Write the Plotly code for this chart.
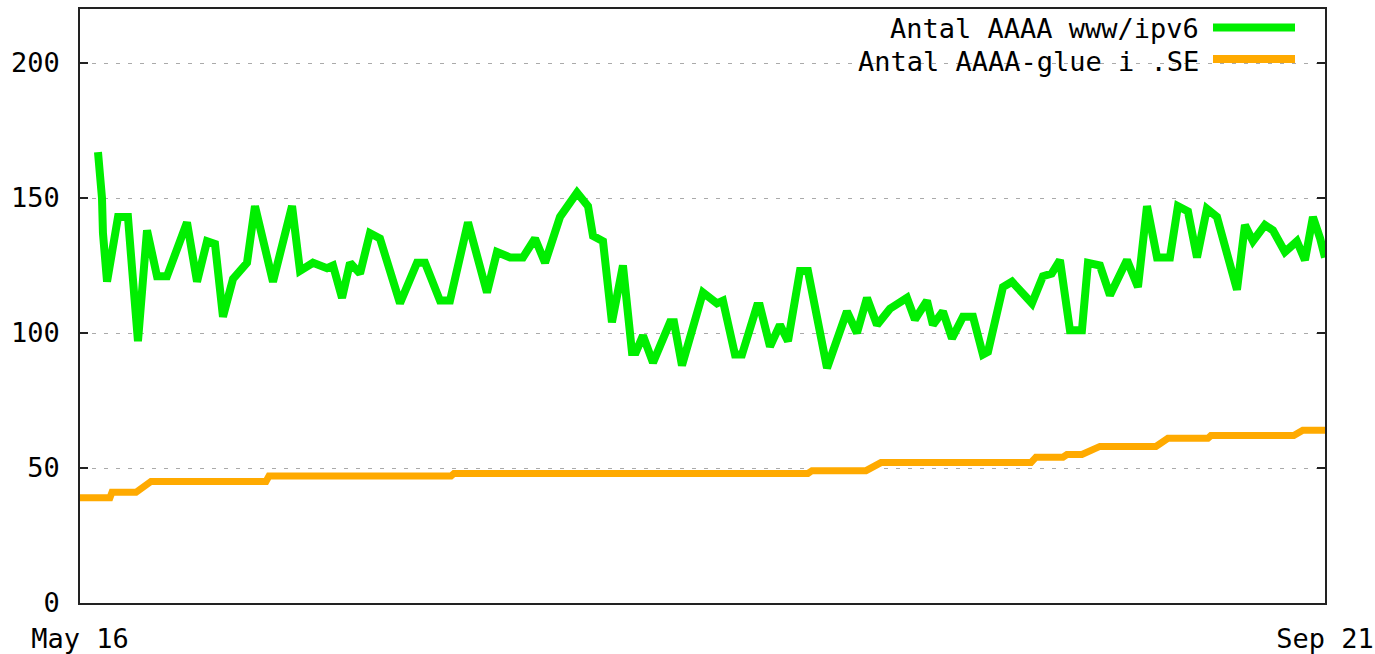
import pandas as pd
import plotly.graph_objects as go

# ---- data (day offsets from start date, values) ----
start_date = "2008-05-16"
end_date = "2008-09-21"
tick_dates = ["2008-05-16", "2008-09-21"]
tick_labels = ["May 16", "Sep 21"]
y_ticks = [0, 50, 100, 150, 200]

green_name = "Antal AAAA www/ipv6"
green_day = [1.85, 2.0, 2.26, 2.36, 2.78, 3.91, 4.93, 5.35, 5.96, 6.89,
             7.92, 8.94, 11.0, 12.03, 13.06, 13.88, 14.7, 15.73, 17.17, 17.99,
             19.84, 21.8, 22.62, 23.95, 25.39, 26.01, 26.94, 27.76, 28.79, 29.81,
             30.84, 32.9, 34.65, 35.47, 37.01, 38.04, 39.89, 41.84, 42.87, 44.21,
             45.54, 46.78, 47.81, 49.35, 51.1, 52.23, 52.74, 53.77, 54.69, 55.82,
             56.75, 57.16, 57.88, 58.91, 60.66, 61.07, 61.89, 64.05, 65.49, 66.1,
             67.34, 68.06, 69.6, 69.9, 70.94, 71.96, 72.79, 74.02, 74.84, 76.8,
             78.85, 79.88, 80.91, 81.94, 83.27, 85.02, 85.84, 87.08, 87.69, 88.72,
             89.65, 90.78, 91.81, 92.83, 93.35, 94.89, 95.82, 97.87, 99.0, 99.9,
             100.75, 101.78, 103.01, 103.63, 104.86, 105.89, 107.64, 108.77, 109.7, 110.73,
             112.06, 112.88, 113.91, 114.84, 115.86, 116.89, 118.95, 119.77, 120.59, 121.82,
             122.65, 123.88, 125.11, 125.94, 126.76, 127.5, 128.0]
green_val = [167, 161, 150, 137, 119, 143, 143, 124, 97, 138,
             121, 121, 141, 119, 134, 133, 106, 120, 126, 147,
             119, 147, 123, 126, 124, 125, 113, 126, 122, 137,
             135, 111, 126, 126, 112, 112, 141, 115, 130, 128,
             128, 135, 126, 143, 152, 147, 136, 134, 104, 125,
             93, 93, 99, 89, 104, 104, 88, 115, 111, 112,
             92, 92, 110, 110, 95, 103, 97, 123, 123, 87,
             108, 100, 113, 103, 109, 113, 105, 112, 103, 108,
             98, 106, 106, 92, 93, 117, 119, 111, 121, 122,
             127, 101, 101, 126, 125, 114, 127, 117, 147, 128,
             128, 147, 145, 128, 146, 143, 116, 140, 134, 140,
             138, 130, 134, 127, 143, 135, 128]

orange_name = "Antal AAAA-glue i .SE"
orange_day = [0.0, 3.08, 3.29, 5.76, 7.3, 19.12, 19.43, 38.14, 38.45, 74.84,
              75.26, 80.81, 82.35, 97.77, 98.28, 101.06, 101.47, 103.01, 104.86, 110.62,
              111.85, 115.96, 116.27, 124.79, 125.72, 128.0]
orange_val = [39, 39, 41, 41, 45, 45, 47, 47, 48, 48,
              49, 49, 52, 52, 54, 54, 55, 55, 58, 58,
              61, 61, 62, 62, 64, 64]

GREEN = "#00ee00"
ORANGE = "#ffaa00"
FONT = "DejaVu Sans Mono"
FS = 26

t0 = pd.Timestamp(start_date)
gx = t0 + pd.to_timedelta(green_day, unit="D")
ox = t0 + pd.to_timedelta(orange_day, unit="D")

fig = go.Figure()
fig.add_trace(go.Scatter(x=gx, y=green_val, mode="lines", name=green_name,
                         line=dict(color=GREEN, width=8), showlegend=False))
fig.add_trace(go.Scatter(x=ox, y=orange_val, mode="lines", name=orange_name,
                         line=dict(color=ORANGE, width=7), showlegend=False))

W, H = 1375, 654
ml, mr, mt, mb = 80, 50, 9, 51
pw, ph = W - ml - mr, H - mt - mb


def px(x):  # screen x -> paper
    return (x - ml) / pw


def py(y):  # screen y -> paper
    return (H - mb - y) / ph


# opaque key box (hides grid behind the legend)
fig.add_shape(type="rect", xref="paper", yref="paper",
              x0=px(850), x1=px(1307), y0=py(80), y1=py(12),
              fillcolor="white", line=dict(width=0), layer="between")

# legend: text then sample line (gnuplot style)
for name, col, ty, ly in [(green_name, GREEN, 29, 27.5), (orange_name, ORANGE, 61, 59)]:
    fig.add_annotation(xref="paper", yref="paper", x=px(1201), y=py(ty),
                       xanchor="right", yanchor="middle", showarrow=False,
                       text=name, font=dict(family=FONT, size=FS + 1, color="black"))
    fig.add_shape(type="line", xref="paper", yref="paper",
                  x0=px(1213), x1=px(1295), y0=py(ly), y1=py(ly),
                  line=dict(color=col, width=8), layer="above")

fig.update_layout(
    width=W, height=H, autosize=False,
    margin=dict(l=ml, r=mr, t=mt, b=mb, pad=0),
    paper_bgcolor="white", plot_bgcolor="white",
    font=dict(family=FONT, size=FS, color="black"),
    showlegend=False,
)
fig.update_xaxes(
    type="date", range=[start_date, end_date],
    tickvals=tick_dates, ticktext=tick_labels,
    showgrid=False, zeroline=False, automargin=False,
    showline=True, linecolor="#222222", linewidth=1.5, mirror=True,
    ticks="", ticklabelstandoff=11,
    tickfont=dict(family=FONT, size=FS + 1, color="black"),
)
fig.update_yaxes(
    range=[0, ph / 2.7], tickvals=y_ticks,
    showgrid=True, gridcolor="#aaaaaa", gridwidth=1, griddash="4px,8px",
    zeroline=False, automargin=False,
    showline=True, linecolor="#222222", linewidth=1.5, mirror="ticks",
    ticks="inside", ticklen=8, tickwidth=2, tickcolor="#222222",
    ticklabelstandoff=13,
    tickfont=dict(family=FONT, size=FS + 1, color="black"),
)

# remove the default page margin so the figure fills the window exactly
fig.write_html("out.html",
               config={"displayModeBar": False},
               post_script="document.body.style.margin='0';"
                           "document.body.style.overflow='hidden';")
